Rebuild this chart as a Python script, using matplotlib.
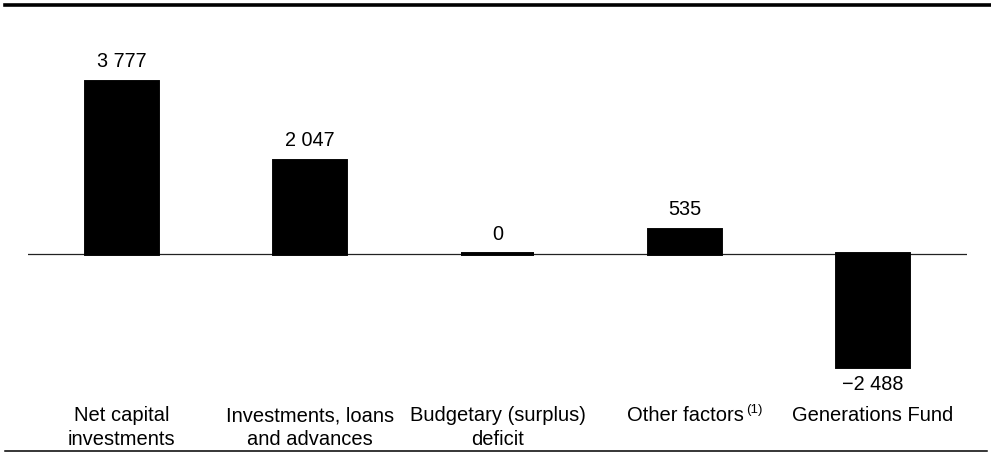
import matplotlib
matplotlib.use("Agg")
import matplotlib.pyplot as plt
from matplotlib.lines import Line2D
import matplotlib.transforms as mtransforms

plt.rcParams['font.family'] = ['Liberation Sans', 'DejaVu Sans']

# data
categories = ["Net capital\ninvestments", "Investments, loans\nand advances",
              "Budgetary (surplus)\ndeficit", "Other factors", "Generations Fund"]
values = [3777, 2047, 0, 535, -2488]
value_labels = ["3 777", "2 047", "0", "535", "\u22122 488"]
footnote = "(1)"

W, H = 991, 461
fig = plt.figure(figsize=(W / 100, H / 100), dpi=100)

# axes placed in pixel terms
ax_left, ax_right = 28, 967
ax_top, ax_bottom = 40, 400
ax = fig.add_axes([ax_left / W, (H - ax_bottom) / H,
                   (ax_right - ax_left) / W, (ax_bottom - ax_top) / H])

px_per_unit = 0.0456
ax.set_xlim(-0.5, len(values) - 0.5)
ax.set_ylim(-(ax_bottom - 254) / px_per_unit, (254 - ax_top) / px_per_unit)

x = list(range(len(values)))
ax.bar(x, values, width=0.385, color="black", edgecolor="black",
       linewidth=2.8, zorder=3)
ax.axhline(0, color="#222222", linewidth=0.9, zorder=2)

for xi, v, lab in zip(x, values, value_labels):
    if v >= 0:
        ax.annotate(lab, xy=(xi, v), xytext=(0, 10.4), textcoords="offset points",
                    ha="center", va="baseline", fontsize=14.3)
    else:
        ax.annotate(lab, xy=(xi, v), xytext=(0, -5.5), textcoords="offset points",
                    ha="center", va="top", fontsize=14.3)

# category labels under the chart
trans = mtransforms.blended_transform_factory(ax.transData, fig.transFigure)
cat_texts = []
for xi, cat in zip(x, categories):
    t = ax.text(xi, 1 - 406 / H, cat, transform=trans, ha="center", va="top",
                fontsize=14.5, linespacing=1.33, multialignment="center")
    cat_texts.append(t)

# footnote marker on "Other factors"
ax.annotate(footnote, xy=(1, 1), xycoords=cat_texts[3], xytext=(1.5, 1.5),
            textcoords="offset points", ha="left", va="top", fontsize=9.5)

for s in ax.spines.values():
    s.set_visible(False)
ax.set_xticks([])
ax.set_yticks([])

# frame rules at top and bottom
fig.add_artist(Line2D([5 / W, 990 / W], [1 - 5 / H, 1 - 5 / H],
                      transform=fig.transFigure, color="black", linewidth=2.6))
fig.add_artist(Line2D([5 / W, 987 / W], [1 - 451 / H, 1 - 451 / H],
                      transform=fig.transFigure, color="black", linewidth=1.1))

fig.savefig("out.png", dpi=100)
